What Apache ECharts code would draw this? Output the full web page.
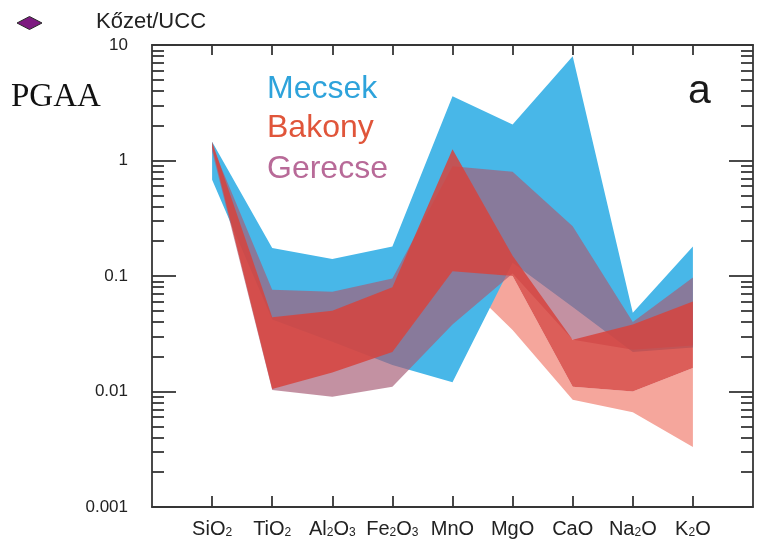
<!DOCTYPE html>
<html>
<head>
<meta charset="utf-8">
<script src="https://cdn.jsdelivr.net/npm/echarts@6/dist/echarts.min.js"></script>
<style>html,body{margin:0;padding:0;background:#fff;}#c{width:763px;height:544px;}</style>
</head>
<body>
<div id="c"></div>
<script>
// ---- data ----
const categories = ['SiO2', 'TiO2', 'Al2O3', 'Fe2O3', 'MnO', 'MgO', 'CaO', 'Na2O', 'K2O'];
const mecsekUpper  = [1.45, 0.175, 0.14, 0.18, 3.6, 2.05, 8.0, 0.048, 0.18];
const mecsekLower  = [0.68, 0.042, 0.027, 0.017, 0.012, 0.13, 0.054, 0.022, 0.024];
const gerecseUpper = [1.35, 0.076, 0.073, 0.095, 0.89, 0.80, 0.27, 0.040, 0.097];
const gerecseLower = [1.2, 0.0103, 0.009, 0.011, 0.038, 0.105, 0.028, 0.023, 0.025];
const bakonyUpper  = [1.45, 0.044, 0.05, 0.08, 1.25, 0.15, 0.028, 0.038, 0.06];
const bakonyLower  = [1.3, 0.0105, 0.0146, 0.022, 0.11, 0.10, 0.011, 0.010, 0.016];
const bakonyOuterUpper = [1.3, 0.0105, 0.0146, 0.022, 0.11, 0.10, 0.011, 0.010, 0.016];
const bakonyOuterLower = [1.3, 0.0105, 0.0146, 0.022, 0.11, 0.034, 0.0085, 0.0066, 0.0033];
const yTickValues = [0.001, 0.01, 0.1, 1, 10];
const yTickLabels = ['0.001', '0.01', '0.1', '1', '10'];
const yMinorTicks = [0.002,0.003,0.004,0.005,0.006,0.007,0.008,0.009,
                     0.02,0.03,0.04,0.05,0.06,0.07,0.08,0.09,
                     0.2,0.3,0.4,0.5,0.6,0.7,0.8,0.9,
                     2,3,4,5,6,7,8,9];

// axis categories: one empty slot on each side so the frame extends past SiO2 and K2O
const axisCategories = [''].concat(categories, ['']);

// ---- helpers ----
const FONT = 'Liberation Sans, Arial, Helvetica, sans-serif';
const axisCol = '#363636';
function richName(name) {
  if (!name) return '';
  return name.replace(/([A-Za-z]+)|(\d+)/g, (m, a, d) => a ? '{n|' + a + '}' : '{s|' + d + '}');
}
function band(id, lower, upper, color, opacity) {
  return [
    { type: 'line', name: id + '_base', stack: id, data: lower.map((v, i) => [categories[i], v]),
      symbol: 'none', lineStyle: { opacity: 0 }, silent: true, z: 2 },
    { type: 'line', name: id, stack: id, data: upper.map((v, i) => [categories[i], v - lower[i]]),
      symbol: 'none', lineStyle: { opacity: 0 }, areaStyle: { color: color, opacity: opacity }, silent: true, z: 2 }
  ];
}
const lineStyle = { color: axisCol, width: 1.8 };
const isInner = (idx) => idx >= 1 && idx <= categories.length;

const chart = echarts.init(document.getElementById('c'), null, { renderer: 'canvas' });
chart.setOption({
  animation: false,
  backgroundColor: '#fff',
  grid: { left: 152, right: 10, top: 45, bottom: 37, containLabel: false },
  xAxis: [
    { type: 'category', data: axisCategories, boundaryGap: false, position: 'bottom',
      axisLine: { show: true, onZero: false, lineStyle: lineStyle },
      axisTick: { show: true, inside: true, length: 11, interval: isInner, lineStyle: lineStyle },
      axisLabel: { show: true, interval: 0, margin: 8,
        formatter: v => richName(v),
        rich: {
          n: { fontFamily: FONT, fontSize: 20, color: '#222', lineHeight: 24, verticalAlign: 'bottom' },
          s: { fontFamily: FONT, fontSize: 12, color: '#222', lineHeight: 16, verticalAlign: 'bottom' }
        } },
      splitLine: { show: false } },
    { type: 'category', data: axisCategories, boundaryGap: false, position: 'top',
      axisLine: { show: true, onZero: false, lineStyle: lineStyle },
      axisTick: { show: true, inside: true, length: 10, interval: isInner, lineStyle: lineStyle },
      axisLabel: { show: false }, splitLine: { show: false } }
  ],
  yAxis: [
    { type: 'log', logBase: 10, min: 0.001, max: 10, position: 'left',
      axisLine: { show: true, onZero: false, lineStyle: lineStyle },
      axisTick: { show: true, inside: true, length: 24, customValues: yTickValues, lineStyle: lineStyle },
      axisLabel: { show: true, customValues: yTickValues, margin: 24, fontFamily: FONT, fontSize: 17, color: '#222',
        formatter: v => { const i = yTickValues.findIndex(t => Math.abs(Math.log10(t) - Math.log10(v)) < 1e-6); return i >= 0 ? yTickLabels[i] : ''; } },
      splitLine: { show: false } },
    { type: 'log', logBase: 10, min: 0.001, max: 10, position: 'left',
      axisLine: { show: false, onZero: false },
      axisTick: { show: true, inside: true, length: 12, customValues: yMinorTicks, lineStyle: lineStyle },
      axisLabel: { show: false }, splitLine: { show: false } },
    { type: 'log', logBase: 10, min: 0.001, max: 10, position: 'right',
      axisLine: { show: true, onZero: false, lineStyle: lineStyle },
      axisTick: { show: true, inside: true, length: 24, customValues: yTickValues, lineStyle: lineStyle },
      axisLabel: { show: false }, splitLine: { show: false } },
    { type: 'log', logBase: 10, min: 0.001, max: 10, position: 'right',
      axisLine: { show: false, onZero: false },
      axisTick: { show: true, inside: true, length: 12, customValues: yMinorTicks, lineStyle: lineStyle },
      axisLabel: { show: false }, splitLine: { show: false } }
  ],
  series: [].concat(
    band('BakonyOuter', bakonyOuterLower, bakonyOuterUpper, '#f5a69c', 1),
    band('Mecsek', mecsekLower, mecsekUpper, '#48b7e8', 1),
    band('Gerecse', gerecseLower, gerecseUpper, 'rgb(166,93,118)', 0.68),
    band('Bakony', bakonyLower, bakonyUpper, 'rgb(214,68,62)', 0.86)
  ),
  graphic: [
    { type: 'polygon', shape: { points: [[17, 23], [29.5, 16.5], [42, 23], [29.5, 29.5]] },
      style: { fill: '#7d1a80', stroke: '#2a2a2a', lineWidth: 1 } },
    { type: 'text', x: 96, y: 21.5, style: { text: 'Kőzet/UCC', fontFamily: FONT, fontSize: 22, fill: '#222', align: 'left', verticalAlign: 'middle' } },
    { type: 'text', x: 11, y: 97, style: { text: 'PGAA', fontFamily: 'Liberation Serif, Times New Roman, serif', fontSize: 33, fill: '#111', align: 'left', verticalAlign: 'middle' } },
    { type: 'text', x: 267, y: 89, z: 10, style: { text: 'Mecsek', fontFamily: FONT, fontSize: 32, fill: '#2ea3db', align: 'left', verticalAlign: 'middle' } },
    { type: 'text', x: 267, y: 128, z: 10, style: { text: 'Bakony', fontFamily: FONT, fontSize: 32, fill: '#e0553a', align: 'left', verticalAlign: 'middle' } },
    { type: 'text', x: 267, y: 169, z: 10, style: { text: 'Gerecse', fontFamily: FONT, fontSize: 32, fill: '#b86a98', align: 'left', verticalAlign: 'middle' } },
    { type: 'text', x: 688, y: 92, z: 10, style: { text: 'a', fontFamily: FONT, fontSize: 41, fill: '#1a1a1a', align: 'left', verticalAlign: 'middle' } }
  ]
});
</script>
</body>
</html>
